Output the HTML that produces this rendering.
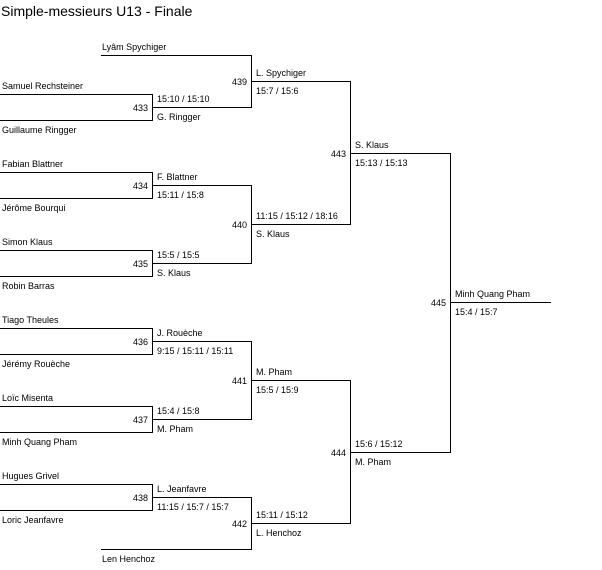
<!DOCTYPE html>
<html><head><meta charset="utf-8"><style>
body{margin:0;background:#fff;}
svg{display:block;}
text{font-family:"Liberation Sans",sans-serif;font-size:9px;fill:#000;}
.t{font-size:14px;}
.r{text-anchor:end;}
</style></head><body>
<svg width="602" height="570" viewBox="0 0 602 570" xmlns="http://www.w3.org/2000/svg">
<text class="t" x="1" y="16">Simple-messieurs U13 - Finale</text>
<g stroke="#000" stroke-width="1" fill="none" shape-rendering="crispEdges">
<!-- round 1 -->
<path d="M0 94.5H152.5V120.5H0"/>
<path d="M0 172.5H152.5V198.5H0"/>
<path d="M0 250.5H152.5V276.5H0"/>
<path d="M0 328.5H152.5V354.5H0"/>
<path d="M0 406.5H152.5V432.5H0"/>
<path d="M0 484.5H152.5V510.5H0"/>
<!-- round 2 -->
<path d="M101 55.5H251.5V107.5H152"/>
<path d="M152 185.5H251.5V263.5H152"/>
<path d="M152 341.5H251.5V419.5H152"/>
<path d="M152 497.5H251.5V549.5H101"/>
<!-- round 3 -->
<path d="M251 81.5H350.5V224.5H251"/>
<path d="M251 380.5H350.5V523.5H251"/>
<!-- round 4 -->
<path d="M350 153.5H450.5V452.5H350"/>
<path d="M450 302.5H551"/>
</g>
<!-- players -->
<text x="102" y="50">Lyâm Spychiger</text>
<text x="2" y="89">Samuel Rechsteiner</text>
<text x="2" y="133">Guillaume Ringger</text>
<text x="2" y="167">Fabian Blattner</text>
<text x="2" y="211">Jérôme Bourqui</text>
<text x="2" y="245">Simon Klaus</text>
<text x="2" y="289">Robin Barras</text>
<text x="2" y="323">Tiago Theules</text>
<text x="2" y="367">Jérémy Rouèche</text>
<text x="2" y="401">Loïc Misenta</text>
<text x="2" y="445">Minh Quang Pham</text>
<text x="2" y="479">Hugues Grivel</text>
<text x="2" y="523">Loric Jeanfavre</text>
<text x="102" y="562">Len Henchoz</text>
<!-- match numbers -->
<text class="r" x="148" y="111">433</text>
<text class="r" x="148" y="189">434</text>
<text class="r" x="148" y="267">435</text>
<text class="r" x="148" y="345">436</text>
<text class="r" x="148" y="423">437</text>
<text class="r" x="148" y="501">438</text>
<text class="r" x="247" y="85">439</text>
<text class="r" x="247" y="228">440</text>
<text class="r" x="247" y="384">441</text>
<text class="r" x="247" y="527">442</text>
<text class="r" x="346" y="157">443</text>
<text class="r" x="346" y="456">444</text>
<text class="r" x="446" y="306">445</text>
<!-- round 2 winners -->
<text x="157" y="102">15:10 / 15:10</text>
<text x="157" y="120">G. Ringger</text>
<text x="157" y="180">F. Blattner</text>
<text x="157" y="198">15:11 / 15:8</text>
<text x="157" y="258">15:5 / 15:5</text>
<text x="157" y="276">S. Klaus</text>
<text x="157" y="336">J. Rouèche</text>
<text x="157" y="354">9:15 / 15:11 / 15:11</text>
<text x="157" y="414">15:4 / 15:8</text>
<text x="157" y="432">M. Pham</text>
<text x="157" y="492">L. Jeanfavre</text>
<text x="157" y="510">11:15 / 15:7 / 15:7</text>
<!-- round 3 -->
<text x="256" y="76">L. Spychiger</text>
<text x="256" y="94">15:7 / 15:6</text>
<text x="256" y="219">11:15 / 15:12 / 18:16</text>
<text x="256" y="237">S. Klaus</text>
<text x="256" y="375">M. Pham</text>
<text x="256" y="393">15:5 / 15:9</text>
<text x="256" y="518">15:11 / 15:12</text>
<text x="256" y="536">L. Henchoz</text>
<!-- round 4 -->
<text x="355" y="148">S. Klaus</text>
<text x="355" y="166">15:13 / 15:13</text>
<text x="355" y="447">15:6 / 15:12</text>
<text x="355" y="465">M. Pham</text>
<!-- final -->
<text x="455" y="297">Minh Quang Pham</text>
<text x="455" y="315">15:4 / 15:7</text>
</svg>
</body></html>
